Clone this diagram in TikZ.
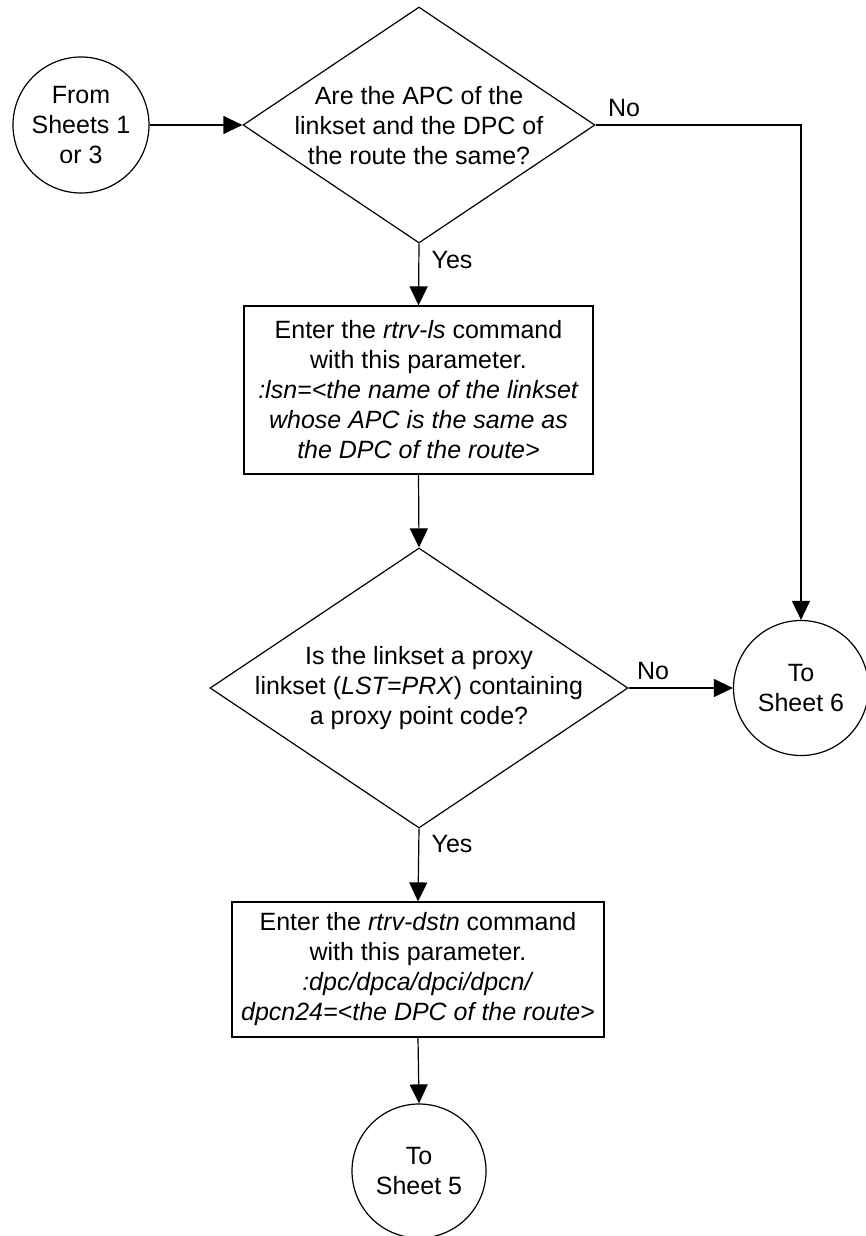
\documentclass[tikz,border=0pt]{standalone}
\usepackage{fontspec}
\setmainfont{Liberation Sans}
\usetikzlibrary{shapes.geometric,arrows.meta}
\begin{document}
\begin{tikzpicture}[x=1pt,y=-1pt,
  every node/.style={font={\fontsize{25}{30}\selectfont}},
  base/.style={draw=black,line width=1.2pt,inner sep=0pt},
  term/.style={base,circle,minimum size=#1},
  procbox/.style={base,rectangle},
  decision/.style={base,diamond},
  txt/.style={align=center,inner sep=0pt},
  lbl/.style={inner sep=0pt},
  arr/.style={line width=1.2pt,-{Triangle[length=19pt,width=18pt]}}
]
\useasboundingbox (0,0) rectangle (866,1236);
\fill[white] (0,0) rectangle (866,1236);

% start
\node[term=136pt,align=center] (s) at (81,125) {From\\Sheets 1\\or 3};

% decision 1
\node[decision,minimum width=352pt,minimum height=236pt] (d1) at (419,125) {};
\node[txt] (d1t) at (419,126) {Are the APC of the\\linkset and the DPC of\\the route the same?};

% box 1
\node[procbox,minimum width=349pt,minimum height=168pt] (b1) at (418.5,390) {};
\node[txt] (b1t) at (418.5,390) {Enter the \textit{rtrv-ls} command\\with this parameter.\\\textit{:lsn=<the name of the linkset}\\\textit{whose APC is the same as}\\\textit{the DPC of the route>}};

% decision 2
\node[decision,minimum width=418pt,minimum height=280pt] (d2) at (419,688) {};
\node[txt] (d2t) at (419,688) {Is the linkset a proxy\\linkset (\textit{LST=PRX}) containing\\a proxy point code?};

% box 2
\node[procbox,minimum width=372pt,minimum height=135pt] (b2) at (418,969.5) {};
\node[txt] (b2t) at (418,969.5) {Enter the \textit{rtrv-dstn} command\\with this parameter.\\\textit{:dpc/dpca/dpci/dpcn/}\\\textit{dpcn24=<the DPC of the route>}};

% terminals
\node[term=135pt,align=center] (c6) at (801,688) {To\\Sheet 6};
\node[term=134pt,align=center] (c5) at (419,1171) {To\\Sheet 5};

% labels
\node[lbl] (no1) at (624,108) {No};
\node[lbl] (yes1) at (452,260) {Yes};
\node[lbl] (no2) at (653,671) {No};
\node[lbl] (yes2) at (452,844) {Yes};

% connectors
\draw[arr] (s.east) -- (d1.west);
\draw[arr] (d1.east) -| (c6.north);
\draw[arr] (d1.south) -- (b1.north);
\draw[arr] (b1.south) -- (d2.north);
\draw[arr] (d2.east) -- (c6.west);
\draw[arr] (d2.south) -- (b2.north);
\draw[arr] (b2.south) -- (c5.north);
\end{tikzpicture}
\end{document}
